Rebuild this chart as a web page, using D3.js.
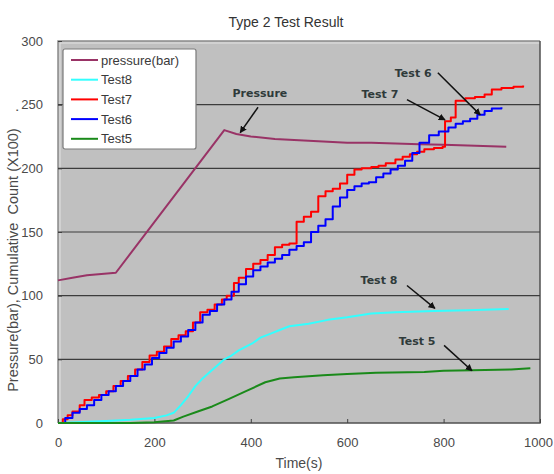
<!DOCTYPE html>
<html lang="en">
<head>
<meta charset="UTF-8">
<title>Type 2 Test Result</title>
<script src="https://d3js.org/d3.v7.min.js"></script>
<style>
  body { margin: 0; background: #fff; }
  text { font-family: "Liberation Sans", Arial, sans-serif; }
</style>
</head>
<body>
<div id="chart"></div>
<script>
// series values: [time (s), value]
const pressure = [[0,112],[30,114],[60,116],[90,117],[120,118],[345,230],[370,227],[400,225],[450,223],
  [500,222],[550,221],[600,220],[650,220],[700,219.5],[750,219],[800,218.5],[850,218],[930,217]];

const test8 = [[0,0],[50,0.8],[100,1.5],[150,2.5],[200,4],[225,6],[240,8],[255,14],[270,21],[285,29],[300,35],
  [315,40],[330,45],[345,50],[360,53],[375,57],[390,60],[405,63],[420,67],[440,70],[460,73],[480,76],
  [520,78],[560,81],[600,83],[650,86],[700,87],[780,88],[850,88.5],[935,89.5]];

const test7 = [[0,0],[10,3],[20,6],[30,9],[45,14],[55,18],[70,20],[85,22],[100,25],[115,29],[130,33],[145,37],
  [160,42],[175,48],[190,53],[205,56],[220,60],[235,66],[250,69],[265,72],[280,79],[295,87],[310,89],
  [325,93],[340,97],[350,100],[365,110],[375,114],[390,121],[405,125],[420,128],[435,132],[450,138],
  [465,140],[480,141],[495,158],[510,162],[525,166],[540,178],[555,182],[570,184],[585,188],[600,195],
  [615,199],[630,200],[650,201],[665,202],[680,204],[700,207],[715,209],[730,211],[745,213],[760,215],
  [780,216],[798,217],[803,237],[815,240],[825,253],[845,255],[865,256],[885,258],[900,262],[920,263],
  [945,264],[965,265]];

const test6 = [[0,0],[15,4],[30,8],[45,11],[60,14],[75,18],[90,22],[105,25],[120,29],[135,33],[150,37],
  [165,42],[180,46],[195,51],[210,55],[225,59],[240,64],[255,68],[270,73],[285,79],[300,85],[315,88],
  [330,93],[345,97],[360,103],[375,109],[390,115],[405,120],[420,123],[435,126],[450,129],[465,132],
  [480,136],[495,139],[510,142],[525,150],[540,155],[555,160],[570,170],[585,177],[600,183],[615,186],
  [630,188],[645,189],[660,193],[675,196],[690,199],[705,202],[720,206],[735,212],[750,220],[770,226],
  [790,229],[810,232],[825,235],[840,237],[855,239],[870,242],[885,245],[900,247],[920,248]];

const test5 = [[0,0],[150,0],[200,0.5],[240,2],[260,5],[290,9],[320,13],[355,19],[390,25],[430,32],[460,35],
  [490,36],[550,37.5],[600,38.5],[660,39.5],[760,40],[800,41],[860,41.5],[940,42],[980,43]];

const seriesNames = ["pressure(bar)", "Test8", "Test7", "Test6", "Test5"];
const seriesData = [pressure, test8, test7, test6, test5];
const seriesColors = ["#993366", "#33ffff", "#ff0000", "#0000ff", "#1a8a1a"];
const stepped = [false, false, true, true, false];

const xTicks = [0, 200, 400, 600, 800, 1000];
const yTicks = [0, 50, 100, 150, 200, 250, 300];

// callouts: label, label position, arrow start, arrow end (data units)
const notes = [
  {label: "Pressure", at: [419, 259], from: [415, 248], to: [378, 228]},
  {label: "Test 6", at: [737, 275], from: [788, 275], to: [876, 242]},
  {label: "Test 7", at: [668, 258], from: [724, 254], to: [803, 238]},
  {label: "Test 8", at: [666, 112], from: [724, 108], to: [782, 90]},
  {label: "Test 5", at: [745, 64], from: [801, 61], to: [859, 41]}
];

const width = 554, height = 474;
const margin = {top: 41, right: 14, bottom: 51, left: 58};

const x = d3.scaleLinear().domain([0, 1000]).range([margin.left, width - margin.right]);
const y = d3.scaleLinear().domain([0, 300]).range([height - margin.bottom, margin.top]);

const svg = d3.select("#chart").append("svg")
  .attr("width", width)
  .attr("height", height);

svg.append("defs").append("marker")
  .attr("id", "arrow")
  .attr("viewBox", "0 0 10 10")
  .attr("refX", 9).attr("refY", 5)
  .attr("markerWidth", 7).attr("markerHeight", 7)
  .attr("markerUnits", "userSpaceOnUse")
  .attr("orient", "auto")
  .append("path").attr("d", "M0,0L10,5L0,10z").attr("fill", "#111");

// plot area with bevelled frame
const x0 = x(0), x1 = x(1000), y0 = y(0), y1 = y(300);
svg.append("rect")
  .attr("x", x0).attr("y", y1)
  .attr("width", x1 - x0).attr("height", y0 - y1)
  .attr("fill", "#c0c0c0");
svg.append("path")
  .attr("d", `M${x0},${y0}V${y1}H${x1}`)
  .attr("fill", "none").attr("stroke", "#8a8a8a").attr("stroke-width", 1.5);
svg.append("path")
  .attr("d", `M${x0 + 2},${y0}V${y1 + 2}H${x1}`)
  .attr("fill", "none").attr("stroke", "#e2e2e2").attr("stroke-width", 1);
svg.append("path")
  .attr("d", `M${x0},${y0}H${x1}V${y1}`)
  .attr("fill", "none").attr("stroke", "#505050").attr("stroke-width", 1.5);

// grid
svg.append("g").selectAll("line")
  .data(yTicks.filter(d => d > 0 && d < 300))
  .join("line")
  .attr("x1", x0).attr("x2", x1)
  .attr("y1", d => y(d)).attr("y2", d => y(d))
  .attr("stroke", "#3c3c3c").attr("stroke-width", 1.2);

// axes
const xAxis = svg.append("g")
  .attr("transform", `translate(0,${y0})`)
  .call(d3.axisBottom(x).tickValues(xTicks).tickFormat(d3.format("d"))
    .tickSizeInner(-4).tickSizeOuter(0).tickPadding(15));
const yAxis = svg.append("g")
  .attr("transform", `translate(${x0},0)`)
  .call(d3.axisLeft(y).tickValues(yTicks).tickFormat(d3.format("d"))
    .tickSizeInner(-4).tickSizeOuter(0).tickPadding(15));
[xAxis, yAxis].forEach(a => {
  a.select(".domain").remove();
  a.selectAll(".tick line").attr("stroke", "#404040");
  a.selectAll(".tick text").attr("fill", "#4a4a4a").style("font-size", "13px");
});
// keep the last label inside the window
xAxis.selectAll(".tick text").filter(d => d === 1000).attr("dx", "-2");

// lines
const line = d3.line().x(d => x(d[0])).y(d => y(d[1]));
seriesData.forEach((s, i) => {
  svg.append("path")
    .datum(s)
    .attr("fill", "none")
    .attr("stroke", seriesColors[i])
    .attr("stroke-width", 2)
    .attr("stroke-linejoin", "round")
    .attr("d", line.curve(stepped[i] ? d3.curveStepAfter : d3.curveLinear));
});

// callouts
notes.forEach(n => {
  svg.append("text")
    .attr("x", x(n.at[0])).attr("y", y(n.at[1]))
    .attr("dy", "0.35em")
    .attr("text-anchor", "middle")
    .attr("fill", "#2f3a3a")
    .style("font-size", "11px").style("font-weight", "bold")
    .style("font-family", "'DejaVu Sans', Verdana, sans-serif")
    .text(n.label);
  svg.append("line")
    .attr("x1", x(n.from[0])).attr("y1", y(n.from[1]))
    .attr("x2", x(n.to[0])).attr("y2", y(n.to[1]))
    .attr("stroke", "#111").attr("stroke-width", 1.5)
    .attr("marker-end", "url(#arrow)");
});

// legend
const legend = svg.append("g").attr("transform", "translate(63,49)");
legend.append("rect")
  .attr("width", 133).attr("height", 100)
  .attr("rx", 2)
  .attr("fill", "#fff").attr("stroke", "#7a7a7a").attr("stroke-width", 1.2);
const item = legend.selectAll("g.item")
  .data(seriesNames)
  .join("g")
  .attr("class", "item")
  .attr("transform", (d, i) => `translate(0,${11 + i * 19.7})`);
item.append("line")
  .attr("x1", 8).attr("x2", 35)
  .attr("stroke", (d, i) => seriesColors[i])
  .attr("stroke-width", 2);
item.append("text")
  .attr("x", 38).attr("dy", "0.35em")
  .attr("fill", "#3a3a3a")
  .style("font-size", "13px")
  .text(d => d);

// titles
svg.append("text")
  .attr("x", 286).attr("y", 27)
  .attr("text-anchor", "middle")
  .attr("fill", "#333")
  .style("font-size", "14px")
  .text("Type 2 Test Result");

svg.append("text")
  .attr("x", (x0 + x1) / 2).attr("y", 468)
  .attr("text-anchor", "middle")
  .attr("fill", "#4a4a4a")
  .style("font-size", "14px")
  .text("Time(s)");

svg.append("text")
  .attr("transform", "translate(18,250) rotate(-90)")
  .attr("text-anchor", "middle")
  .attr("fill", "#4a4a4a")
  .style("font-size", "14.5px")
  .style("white-space", "pre")
  .text("Pressure(bar), Cumulative  Count (X100)    .");
</script>
</body>
</html>
